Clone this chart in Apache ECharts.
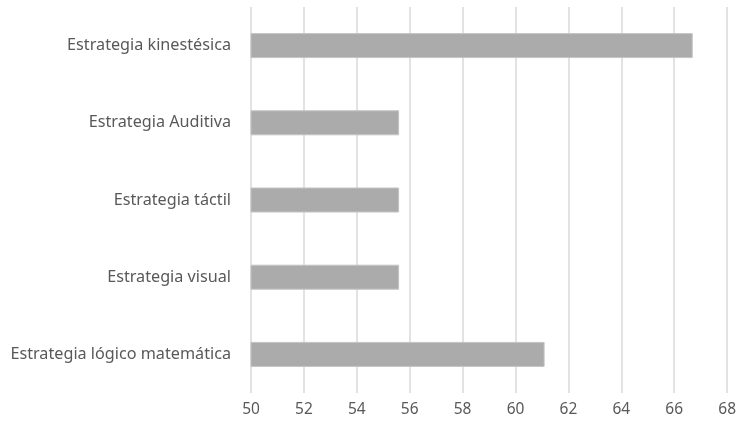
<!DOCTYPE html>
<html>
<head>
<meta charset="utf-8">
<script src="https://cdn.jsdelivr.net/npm/echarts@6/dist/echarts.min.js"></script>
<style>
  html, body { margin: 0; padding: 0; background: #fff; }
  #chart { width: 739px; height: 428px; }
</style>
</head>
<body>
<div id="chart"></div>
<script>
// Categories listed bottom to top (category axis on y starts at the bottom)
const categories = [
  'Estrategia lógico matemática',
  'Estrategia visual',
  'Estrategia táctil',
  'Estrategia Auditiva',
  'Estrategia kinestésica'
];
const values = [61.1, 55.6, 55.6, 55.6, 66.7];
const xTicks = [50, 52, 54, 56, 58, 60, 62, 64, 66, 68];

const chart = echarts.init(document.getElementById('chart'), null, { renderer: 'canvas' });
chart.setOption({
  animation: false,
  grid: { left: 251, right: 10, top: 7, bottom: 35, containLabel: false },
  xAxis: {
    type: 'value',
    min: xTicks[0],
    max: xTicks[xTicks.length - 1],
    interval: 2,
    axisLine: { show: false },
    axisTick: { show: false },
    axisLabel: { color: '#595959', fontSize: 15.5, fontFamily: 'Noto Sans', margin: 9 },
    splitLine: { show: true, lineStyle: { color: '#d9d9d9', width: 1.5 } }
  },
  yAxis: {
    type: 'category',
    data: categories,
    axisLine: { show: false },
    axisTick: { show: false },
    axisLabel: { color: '#595959', fontSize: 16.2, fontFamily: 'Noto Sans', margin: 20 }
  },
  series: [{
    type: 'bar',
    data: values,
    barWidth: 25,
    itemStyle: { color: '#ababab', borderColor: '#c4c4c4', borderWidth: 1 }
  }]
});
</script>
</body>
</html>
